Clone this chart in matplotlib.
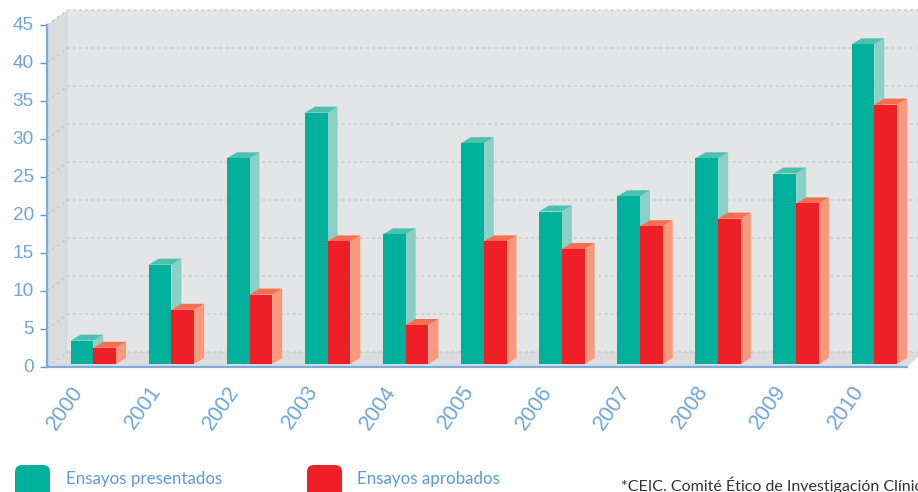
import matplotlib
matplotlib.use('Agg')
import matplotlib.pyplot as plt
from matplotlib.patches import Polygon, FancyBboxPatch
from matplotlib.transforms import ScaledTranslation

years = ['2000','2001','2002','2003','2004','2005','2006','2007','2008','2009','2010']
presentados = [3, 13, 27, 33, 17, 29, 20, 22, 27, 25, 42]
aprobados = [2, 7, 9, 16, 5, 16, 15, 18, 19, 21, 34]
yticks = [0, 5, 10, 15, 20, 25, 30, 35, 40, 45]
series_names = ['Ensayos presentados', 'Ensayos aprobados']
note = '*CEIC. Comité Ético de Investigación Clínica'

W, H = 918, 492
BLUE = '#5b9bd3'
TICK_TEXT = '#6ea6d9'
TEAL, TEAL_S, TEAL_T = '#00b09b', '#8bd0c6', '#4dc0b0'
RED, RED_S, RED_T = '#ee1f26', '#f9987a', '#f6704f'
plt.rcParams['font.family'] = ['Lato', 'DejaVu Sans']

fig = plt.figure(figsize=(W/100, H/100), dpi=100, facecolor='white')

# pixel-space background
bg = fig.add_axes([0, 0, 1, 1], zorder=0)
bg.set_xlim(0, W); bg.set_ylim(H, 0); bg.axis('off')
L, R, T, B = 47, 907, 25, 367
DX, DY = 21, 15
PXV = (B - T) / 45
bg.add_patch(Polygon([(L+DX, T-DY), (W+2, T-DY), (W+2, B-DY), (L+DX, B-DY)], fc='#e4e5e7', ec='none'))
bg.add_patch(Polygon([(L, T), (L+DX, T-DY), (L+DX, B-DY), (L, B)], fc='#dbdcde', ec='none'))
bg.add_patch(Polygon([(L, B), (L+DX, B-DY), (W+2, B-DY), (W+2, B-DY+3), (R, B)], fc='#dbdcde', ec='none'))
for v in yticks:
    y = B - v * PXV
    bg.plot([L, L+DX, W], [y, y-DY, y-DY], color='#c8c9cb', lw=1.0, ls=(0, (2.2, 2.2)))

# data axes
ax = fig.add_axes([L/W, 1-B/H, (R-L)/W, (B-T)/H], zorder=1)
ax.patch.set_alpha(0)
X0, STEP = 93.3, 78.1
ax.set_xlim((L-X0)/STEP, (R-X0)/STEP)
ax.set_ylim(0, 45)
for s in ('top', 'right'):
    ax.spines[s].set_visible(False)
for s in ('left', 'bottom'):
    ax.spines[s].set_color('#7fabd8')
    ax.spines[s].set_linewidth(1.6)
ax.set_yticks(yticks)
ax.tick_params(axis='y', length=5.0, width=1.0, color=BLUE, labelcolor=TICK_TEXT, labelsize=13.7, pad=4.5)
ax.set_xticks(range(len(years)))
ax.set_xticklabels(years)
ax.tick_params(axis='x', length=0, labelcolor=TICK_TEXT, labelsize=15.5)
up = ScaledTranslation(0, 2/100, fig.dpi_scale_trans)
for lab in ax.get_yticklabels():
    lab.set_family(['Liberation Sans'])
    lab.set_transform(lab.get_transform() + up)
off = ScaledTranslation(-14/100, -16/100, fig.dpi_scale_trans)
for lab in ax.get_xticklabels():
    lab.set_rotation(55)
    lab.set_rotation_mode('anchor')
    lab.set_ha('right')
    lab.set_va('center')
    lab.set_family(['Liberation Sans'])
    lab.set_transform(lab.get_transform() + off)

w = 22.7 / STEP
dx = 10 / STEP
dy = 6 / PXV

def bar3d(val, base, lift, left, front, side, top, z):
    r = left + w
    t = base + val + lift
    ax.add_patch(Polygon([(r, base), (r+dx, base+dy), (r+dx, t+dy), (r, t)], fc=side, ec='none', zorder=z, clip_on=False))
    ax.add_patch(Polygon([(left, t), (left+dx, t+dy), (r+dx, t+dy), (r, t)], fc=top, ec='none', zorder=z, clip_on=False))
    ax.bar(left, t - base, width=w, bottom=base, align='edge', color=front, zorder=z+0.5, clip_on=False)

base_t = 3.5 / PXV
base_r = 3 / PXV
lift_r = 1 / PXV
for i, (a, b) in enumerate(zip(presentados, aprobados)):
    bar3d(a, base_t, 0, i - w, TEAL, TEAL_S, TEAL_T, 3 + i)
    bar3d(b, base_r, lift_r, i, RED, RED_S, RED_T, 3.6 + i)

# legend + note in pixel space
fg = fig.add_axes([0, 0, 1, 1], zorder=2)
fg.set_xlim(0, W); fg.set_ylim(H, 0); fg.axis('off')
for x, c, name, tx in [(15, TEAL, series_names[0], 66), (307, RED, series_names[1], 357)]:
    fg.add_patch(FancyBboxPatch((x+7, 472), 21, 30, boxstyle='round,pad=7,rounding_size=7', fc=c, ec='none', clip_on=True))
    fg.text(tx, 479, name, color=BLUE, fontsize=12.2, va='center', ha='left')
fg.text(621, 485, note, color='#333333', fontsize=11.5, va='center', ha='left', clip_on=True)

fig.savefig('out.png', dpi=100)
